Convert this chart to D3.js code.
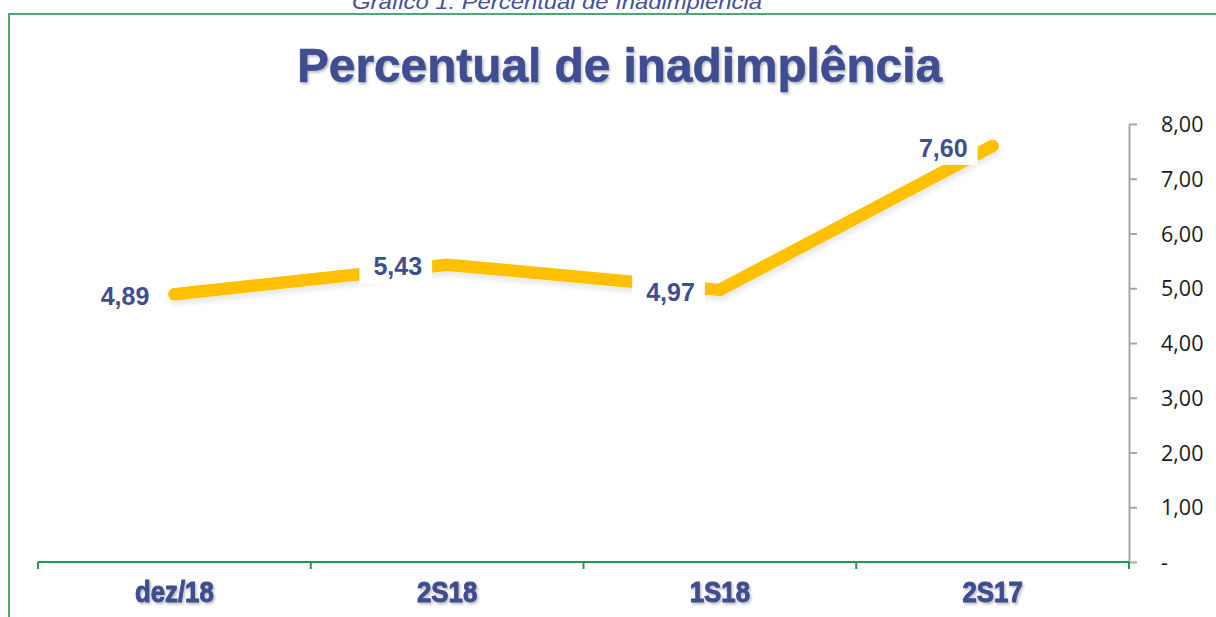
<!DOCTYPE html>
<html><head><meta charset="utf-8">
<script src="https://cdn.jsdelivr.net/npm/d3@7"></script>
<style>body{margin:0;background:#fff;}svg{display:block;}</style>
</head><body>
<svg id="chart" width="1216" height="617"></svg>
<script>
const categories = ["dez/18", "2S18", "1S18", "2S17"];
const values = [4.89, 5.43, 4.97, 7.60];
const yTicks = [0, 1, 2, 3, 4, 5, 6, 7, 8];
const caption = "Gráfico 1: Percentual de Inadimplência";
const title = "Percentual de inadimplência";

const svg = d3.select("#chart");
const blue = "#3F4E90";
const defs = svg.append("defs");
const f = defs.append("filter").attr("id","sh").attr("x","-10%").attr("y","-20%").attr("width","130%").attr("height","160%");
f.append("feDropShadow").attr("dx",1.5).attr("dy",2).attr("stdDeviation",1.2).attr("flood-color","#000").attr("flood-opacity",0.25);
const f2 = defs.append("filter").attr("id","lsh").attr("x","-10%").attr("y","-30%").attr("width","130%").attr("height","180%");
f2.append("feDropShadow").attr("dx",1).attr("dy",5).attr("stdDeviation",2).attr("flood-color","#000").attr("flood-opacity",0.08);

// frame
svg.append("rect").attr("x",9).attr("y",14).attr("width",1240).attr("height",640)
  .attr("fill","none").attr("stroke","#4DA878").attr("stroke-width",2);

// caption (partly cut, as in the reference)
svg.append("text").attr("x",352).attr("y",9).text(caption)
  .attr("font-family","Liberation Sans, Arial, sans-serif").attr("font-style","italic")
  .attr("font-size",20).attr("fill","#44509A")
  .attr("textLength",410).attr("lengthAdjust","spacingAndGlyphs");

// title
svg.append("text").attr("x",297).attr("y",81.5).text(title)
  .attr("font-family","Liberation Sans, Arial, sans-serif").attr("font-weight","bold")
  .attr("font-size",48).attr("fill",blue).attr("stroke",blue).attr("stroke-width",0.6)
  .attr("filter","url(#sh)")
  .attr("textLength",645).attr("lengthAdjust","spacingAndGlyphs");

const x = d3.scaleBand().domain(categories).range([38,1129]).padding(0);
const y = d3.scaleLinear().domain([0,8]).range([562,124]);
const cx = c => x(c) + x.bandwidth()/2;

// y axis (right)
const yAxis = d3.axisRight(y).tickValues(yTicks).tickSize(8).tickSizeOuter(0)
  .tickFormat(d => d === 0 ? "-" : d3.format(".2f")(d).replace(".", ","));
const gy = svg.append("g").attr("transform","translate(1129,0)").call(yAxis);
gy.select(".domain").attr("stroke","#A6A6A6").attr("stroke-width",2);
gy.selectAll(".tick line").attr("stroke","#A6A6A6").attr("stroke-width",2);
gy.selectAll(".tick text").attr("x",32).attr("dy","0.35em")
  .attr("font-family","Open Sans, sans-serif").attr("font-size",21.5).attr("fill","#1a1a1a")
  .attr("text-anchor","start");

// x axis line and boundary ticks
const gx = svg.append("g");
gx.append("line").attr("x1",x.range()[0]).attr("x2",x.range()[1]).attr("y1",y(0)).attr("y2",y(0))
  .attr("stroke","#1E9A55").attr("stroke-width",2);
const bounds = categories.map(c => x(c)).concat([x.range()[1]]);
gx.selectAll("line.b").data(bounds).enter().append("line").attr("class","b")
  .attr("x1",d=>d).attr("x2",d=>d).attr("y1",y(0)).attr("y2",y(0)+7)
  .attr("stroke","#1E9A55").attr("stroke-width",2);
gx.selectAll("text.cat").data(categories).enter().append("text").attr("class","cat")
  .attr("x",d=>cx(d)).attr("y",601.5).attr("text-anchor","middle")
  .attr("font-family","Liberation Sans, Arial, sans-serif").attr("font-weight","bold")
  .attr("font-size",30).attr("fill",blue).attr("stroke",blue).attr("stroke-width",1)
  .attr("filter","url(#sh)")
  .text(d=>d)
  .each(function(){ const w=this.getComputedTextLength(); d3.select(this).attr("textLength",w*0.86).attr("lengthAdjust","spacingAndGlyphs"); });

// line
const pts = categories.map((c,i)=>({c, v: values[i]}));
const line = d3.line().x(d=>cx(d.c)).y(d=>y(d.v));
svg.append("path").datum(pts).attr("d",line).attr("fill","none")
  .attr("stroke","#FFC000").attr("stroke-width",12.5)
  .attr("stroke-linecap","round").attr("stroke-linejoin","miter")
  .attr("filter","url(#lsh)");

// labels with white boxes
const lg = svg.selectAll("g.lab").data(pts).enter().append("g").attr("class","lab");
lg.append("rect").attr("fill","#fff");
lg.append("text").text(d=>d3.format(".2f")(d.v).replace(".", ","))
  .attr("font-family","Liberation Sans, Arial, sans-serif").attr("font-weight","bold")
  .attr("font-size",25).attr("fill",blue).attr("text-anchor","middle").attr("dy","0.35em");
lg.each(function(d){
  const g = d3.select(this);
  const t = g.select("text");
  const w = t.node().getComputedTextLength() + 24;
  const right = cx(d.c) - 15;
  const cxl = right - w/2 + 2;
  const cy = y(d.v) + 2;
  g.select("rect").attr("x", right - w).attr("y", cy - 17).attr("width", w).attr("height", 34);
  t.attr("x", cxl).attr("y", cy);
});
</script>
</body></html>
